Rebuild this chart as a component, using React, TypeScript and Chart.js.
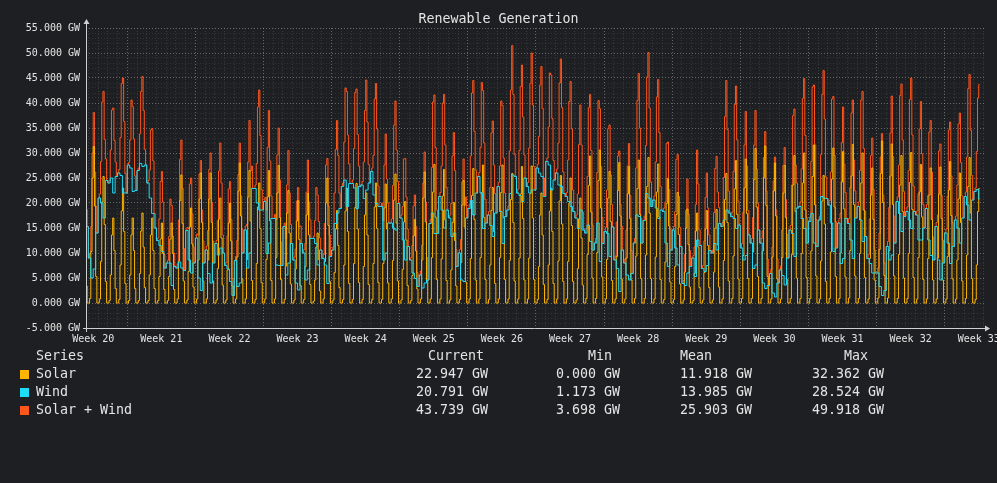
import { useEffect, useRef } from "react"
import { Chart, registerables } from "chart.js"

Chart.register(...registerables)

// hours are counted from Monday 00:00 of week 20
const weekLabels = ["Week 20", "Week 21", "Week 22", "Week 23", "Week 24", "Week 25", "Week 26",
  "Week 27", "Week 28", "Week 29", "Week 30", "Week 31", "Week 32", "Week 33"]
const firstDayHour = 48 // Wednesday of week 20
const endHour = 2270 // Thursday of week 33, ~14:00
const axisMin = 66.2
const axisMax = 2281

// solar, GW, 3-hour steps per day (00, 03, 06, 09, 12, 15, 18, 21 h)
const solar: number[][] = [
  [0, 0.6, 6.6, 16, 20, 12.4, 3.4, 0],
  [0, 0.9, 10.3, 25, 31.3, 19.4, 5.3, 0],
  [0, 0.8, 8.3, 20.2, 25.3, 15.7, 4.3, 0],
  [0, 0.5, 5.6, 13.6, 17, 10.5, 2.9, 0],
  [0, 0.7, 7.6, 18.4, 23, 14.3, 3.9, 0],
  [0, 0.5, 5.6, 13.6, 17, 10.5, 2.9, 0],
  [0, 0.5, 5.9, 14.4, 18, 11.2, 3.1, 0],
  [0, 0.5, 5.6, 13.6, 17, 10.5, 2.9, 0],
  [0, 0.5, 5.3, 12.8, 16, 9.9, 2.7, 0],
  [0, 0.5, 5.3, 12.8, 16, 9.9, 2.7, 0],
  [0, 0.8, 8.4, 20.5, 25.6, 15.9, 4.4, 0],
  [0, 0.6, 6.3, 15.2, 19, 11.8, 3.2, 0],
  [0, 0.8, 8.6, 20.8, 26, 16.1, 4.4, 0],
  [0, 0.8, 8.6, 20.8, 26, 16.1, 4.4, 0],
  [0, 0.6, 6.9, 16.8, 21, 13, 3.6, 0],
  [0, 0.6, 6.6, 16, 20, 12.4, 3.4, 0],
  [0, 0.8, 9.2, 22.4, 28, 17.4, 4.8, 0],
  [0, 0.8, 8.7, 21.2, 26.5, 16.4, 4.5, 0],
  [0, 0.7, 7.9, 19.2, 24, 14.9, 4.1, 0],
  [0, 0.8, 8.7, 21.2, 26.5, 16.4, 4.5, 0],
  [0, 0.8, 9.1, 22, 27.5, 17.1, 4.7, 0],
  [0, 0.7, 7.4, 18, 22.5, 14, 3.8, 0],
  [0, 0.6, 6.8, 16.4, 20.5, 12.7, 3.5, 0],
  [0, 0.7, 7.3, 17.6, 22, 13.6, 3.7, 0],
  [0, 0.4, 4.6, 11.2, 14, 8.7, 2.4, 0],
  [0, 0.8, 8.3, 20, 25, 15.5, 4.3, 0],
  [0, 0.6, 6.1, 14.8, 18.5, 11.5, 3.1, 0],
  [0, 0.7, 7.6, 18.4, 23, 14.3, 3.9, 0],
  [0, 0.7, 7.9, 19.1, 23.9, 14.8, 4.1, 0],
  [0, 0.7, 7.3, 17.6, 22, 13.6, 3.7, 0],
  [0, 0.7, 7.9, 19.2, 24, 14.9, 4.1, 0],
  [0, 0.7, 7.9, 19, 23.8, 14.8, 4, 0],
  [0, 0.8, 8.5, 20.6, 25.8, 16, 4.4, 0],
  [0, 0.6, 6.7, 16.2, 20.3, 12.6, 3.5, 0],
  [0, 0.5, 5.5, 13.4, 16.7, 10.4, 2.8, 0],
  [0, 0.8, 8.6, 21, 26.2, 16.2, 4.5, 0],
  [0, 0.8, 9.1, 22.2, 27.7, 17.2, 4.7, 0],
  [0, 0.8, 8.8, 21.4, 26.7, 16.6, 4.5, 0],
  [0, 0.6, 6.6, 16.1, 20.1, 12.5, 3.4, 0],
  [0, 0.7, 8.1, 19.6, 24.5, 15.2, 4.2, 0],
  [0, 0.8, 8.9, 21.5, 26.9, 16.7, 4.6, 0],
  [0, 0.8, 9.1, 22.1, 27.6, 17.1, 4.7, 0],
  [0, 0.7, 7.6, 18.5, 23.1, 14.3, 3.9, 0],
  [0, 0.8, 9.1, 22.1, 27.6, 17.1, 4.7, 0],
  [0, 0.8, 8.5, 20.7, 25.9, 16.1, 4.4, 0],
  [0, 0.8, 9, 21.8, 27.3, 16.9, 4.6, 0],
  [0, 0.8, 9, 21.9, 27.4, 17, 4.7, 0],
  [0, 0.7, 7.3, 17.6, 22, 13.6, 3.7, 0],
  [0, 0.7, 7.6, 18.4, 23, 14.3, 3.9, 0],
  [0, 0.8, 8.4, 20.4, 25.5, 15.8, 4.3, 0],
  [0, 0.8, 8.3, 20, 25, 15.5, 4.3, 0],
  [0, 0.6, 6.9, 16.8, 21, 13, 3.6, 0],
  [0, 0.9, 9.7, 23.5, 29.4, 18.2, 5, 0],
  [0, 0.9, 10.1, 24.5, 30.6, 19, 5.2, 0],
  [0, 0.8, 8.7, 21, 26.3, 16.3, 4.5, 0],
  [0, 0.8, 9.3, 22.5, 28.1, 17.4, 4.8, 0],
  [0, 0.8, 9, 21.8, 27.3, 16.9, 4.6, 0],
  [0, 0.9, 9.4, 22.9, 28.6, 17.7, 4.9, 0],
  [0, 0.9, 9.6, 23.3, 29.1, 18, 4.9, 0],
  [0, 0.8, 9.2, 22.2, 27.8, 17.2, 4.7, 0],
  [0, 0.7, 8.2, 19.9, 24.9, 15.4, 4.2, 0],
  [0, 0.7, 7.3, 17.7, 22.1, 13.7, 3.8, 0],
  [0, 0.6, 6.2, 15, 18.8, 11.7, 3.2, 0],
  [0, 0.5, 5.9, 14.4, 18, 11.2, 3.1, 0],
  [0, 0.6, 6.1, 14.8, 18.5, 11.5, 3.1, 0],
  [0, 0.6, 6.2, 15, 18.7, 11.6, 3.2, 0],
  [0, 0.8, 8.5, 20.7, 25.9, 16.1, 4.4, 0],
  [0, 0.9, 9.4, 22.8, 28.5, 17.7, 4.8, 0],
  [0, 0.9, 9.5, 23, 28.8, 17.9, 4.9, 0],
  [0, 0.9, 10.2, 24.7, 30.9, 19.2, 5.3, 0],
  [0, 0.9, 10.4, 25.1, 31.4, 19.5, 5.3, 0],
  [0, 0.8, 9.2, 22.4, 28, 17.4, 4.8, 0],
  [0, 0.8, 9.1, 22, 27.5, 17.1, 4.7, 0],
  [0, 0.9, 9.7, 23.6, 29.5, 18.3, 5, 0],
  [0, 0.9, 9.9, 24, 30, 18.6, 5.1, 0],
  [0, 0.9, 10.4, 25.3, 31.6, 19.6, 5.4, 0],
  [0, 0.8, 8.4, 20.4, 25.5, 15.8, 4.3, 0],
  [0, 0.9, 10.2, 24.8, 31, 19.2, 5.3, 0],
  [0, 0.9, 10, 24.2, 30.3, 18.8, 5.2, 0],
  [0, 1, 10.5, 25.4, 31.7, 19.7, 5.4, 0],
  [0, 0.9, 9.9, 24, 30, 18.6, 5.1, 0],
  [0, 0.8, 8.9, 21.6, 27, 16.7, 4.6, 0],
  [0, 1, 10.7, 25.9, 32.4, 20.1, 5.5, 0],
  [0, 1, 10.5, 25.4, 31.8, 19.7, 5.4, 0],
  [0, 0.9, 9.7, 23.6, 29.5, 18.3, 5, 0],
  [0, 0.9, 9.9, 24.1, 30.1, 18.7, 5.1, 0],
  [0, 0.8, 9.1, 22.2, 27.7, 17.2, 4.7, 0],
  [0, 0.8, 8.9, 21.6, 27, 16.7, 4.6, 0],
  [0, 0.8, 9, 21.8, 27.2, 16.9, 4.6, 0],
  [0, 0.8, 9.3, 22.6, 28.3, 17.5, 4.8, 0],
  [0, 0.8, 8.6, 20.8, 26, 16.1, 4.4, 0],
  [0, 0.9, 9.6, 23.3, 29.1, 18, 4.9, 0],
  [0, 0.7, 7.6, 18.3, 22.9],
]

// wind, GW, 6-hour steps per day (00, 06, 12, 18 h)
const wind: number[][] = [
  [14, 15, 16, 15.3], [9, 5, 6.8, 14], [21, 20, 17, 24.5], [24, 25, 22, 25.3],
  [26, 25.5, 22, 22], [27.6, 27, 22.3, 22.5], [26.5, 27.9, 27.3, 27.6], [24, 21, 17.9, 15],
  [12.5, 11.5, 10.3, 7], [8, 8, 3.5, 7.3], [7, 8.2, 7, 6.5], [14.5, 8.6, 6, 8],
  [13, 5, 2.5, 8], [10.6, 5.9, 4, 8], [11.9, 9.6, 11, 10], [7.5, 6.8, 4.3, 1.5],
  [8.5, 3.3, 4, 10], [14.6, 7, 10, 22.9], [22.9, 20, 18.6, 18.6], [20.3, 9.9, 12, 16.9],
  [16.9, 7.6, 7.5, 7.5], [15.3, 5.6, 8, 11.9], [8.6, 4, 2.6, 11.9], [10, 4.6, 6.6, 12.9],
  [12.9, 11.9, 7.6, 10.6], [8.9, 7.6, 3.9, 9.3], [10.6, 15.9, 18, 18.9], [23.3, 24.6, 19.3, 23.9],
  [23.9, 23, 18.9, 23.3], [23.6, 20.9, 22.6, 24], [26.3, 21.6, 19.9, 19.3], [19.3, 8.6, 10, 16],
  [16, 15, 14.6, 19.9], [17, 12.6, 8.6, 11.3], [8.6, 6, 4.9, 3.3], [5.6, 3, 4, 4.6],
  [15.9, 18, 13.9, 13.9], [21.3, 18.6, 15, 18.6], [17, 13.3, 14, 7.3], [10, 4.6, 4.3, 17],
  [18.9, 20.5, 17.6, 22], [25.3, 22, 14.9, 16], [17.6, 15.5, 13.3, 18], [23.3, 18.3, 11.9, 17.3],
  [18.6, 21.9, 25.6, 25.3], [22, 21.5, 20.3, 25], [23.3, 22, 22.6, 22.6], [27, 26, 25.3, 21.3],
  [28.3, 27.6, 22.6, 24.6], [26, 23.6, 23.3, 21.9], [21.3, 20.3, 19.3, 18.3], [17, 14.9, 18.6, 14.6],
  [14, 15.6, 12.3, 10.6], [12, 16, 8.3, 11.9], [14.3, 13.9, 9.3, 15.2], [8.6, 6.9, 2.3, 10.6],
  [8, 5.6, 4.6, 5.9], [12, 17.6, 17.3, 12], [16.5, 21.9, 21, 19.3], [20.6, 19, 16.9, 18.6],
  [18.3, 12, 7.3, 10.6], [14.6, 11, 7.6, 11.3], [3.9, 3.5, 6, 7.3], [9, 5.3, 12.6, 11.5],
  [6.9, 6.3, 7.5, 10.5], [10, 11.9, 10.6, 15.9], [15.3, 16.6, 18.6, 18], [17.3, 16.9, 14.9, 15.6],
  [11, 8.6, 9.5, 13.6], [12, 6.9, 7.6, 14.6], [12, 4, 2.9, 3.5], [5.9, 2, 1.2, 4],
  [6.6, 5.5, 3.6, 9], [14.6, 13.9, 9.3, 19], [19.3, 16.9, 14.9, 12], [16.3, 17.9, 12, 11.3],
  [16.6, 21.3, 21, 20.9], [19.6, 16, 10.3, 11], [16, 7.9, 8.9, 16.9], [15.9, 12.6, 8.9, 17],
  [19.3, 16.6, 12.3, 13.3], [8.9, 7.9, 6, 6], [6, 3.3, 1.5, 2.5], [11.3, 8.6, 9.6, 12],
  [20.3, 17.9, 14.3, 17.3], [18.3, 16.6, 14.9, 18.3], [17.6, 12.6, 12.6, 15], [18.9, 12.6, 9.5, 8.6],
  [15.3, 8.6, 4.6, 8], [14, 12, 7.9, 11.3], [16.6, 15, 12, 17], [21.3, 19.6, 16.6, 20.6],
  [22.3, 22.7, 20.8],
]

const seriesNames = ["Solar", "Wind", "Solar + Wind"]
const currentGW = [22.947, 20.791, 43.739]
const minGW = [0.0, 1.173, 3.698]
const meanGW = [11.918, 13.985, 25.903]
const maxGW = [32.362, 28.524, 49.918]

const SOLAR = "#ffb400"
const WIND = "#1fdcf6"
const SUM = "#ff561c"
const BG = "#1e1f22"
const TEXT = "#e4e4e4"
const MONO = "'DejaVu Sans Mono', monospace"

type Pt = { x: number; y: number }

function buildSeries() {
  const solarPts: Pt[] = []
  const windPts: Pt[] = []
  const sumPts: Pt[] = []
  solar.forEach((row, d) => {
    row.forEach((v, b) => {
      const x = firstDayHour + 24 * d + 3 * b
      solarPts.push({ x, y: v })
      sumPts.push({ x, y: +(v + wind[d][Math.floor(b / 2)]).toFixed(3) })
    })
  })
  wind.forEach((row, d) => {
    row.forEach((v, k) => windPts.push({ x: firstDayHour + 24 * d + 6 * k, y: v }))
  })
  // hold the last reading to the end of the graph
  for (const pts of [solarPts, windPts, sumPts]) {
    pts.push({ x: endHour, y: pts[pts.length - 1].y })
  }
  return { solarPts, windPts, sumPts }
}

const axisArrows = {
  id: "axisArrows",
  afterDatasetsDraw(chart: Chart) {
    const { ctx, chartArea } = chart
    const { left, right, top, bottom } = chartArea
    ctx.save()
    ctx.strokeStyle = "#d0d0d0"
    ctx.fillStyle = "#d0d0d0"
    ctx.lineWidth = 1
    ctx.beginPath()
    ctx.moveTo(left - 3, bottom + 0.5)
    ctx.lineTo(right + 2, bottom + 0.5)
    ctx.moveTo(left + 0.5, bottom + 4)
    ctx.lineTo(left + 0.5, top - 4)
    ctx.stroke()
    ctx.beginPath()
    ctx.moveTo(right + 6, bottom + 0.5)
    ctx.lineTo(right + 1, bottom - 2.5)
    ctx.lineTo(right + 1, bottom + 3.5)
    ctx.closePath()
    ctx.fill()
    ctx.beginPath()
    ctx.moveTo(left + 0.5, top - 9)
    ctx.lineTo(left - 2.5, top - 4)
    ctx.lineTo(left + 3.5, top - 4)
    ctx.closePath()
    ctx.fill()
    ctx.restore()
  },
}

function GenerationChart() {
  const chartRef = useRef<HTMLCanvasElement>(null)
  const chartInstance = useRef<Chart | null>(null)

  useEffect(() => {
    if (!chartRef.current) return
    if (chartInstance.current) chartInstance.current.destroy()

    const { solarPts, windPts, sumPts } = buildSeries()
    const line = { stepped: true, pointRadius: 0, borderWidth: 1, fill: false, tension: 0 }

    chartInstance.current = new Chart(chartRef.current, {
      type: "line",
      data: {
        datasets: [
          { ...line, label: "Wind", data: windPts, borderColor: WIND, order: 1 },
          { ...line, label: "Solar", data: solarPts, borderColor: SOLAR, order: 2 },
          { ...line, label: "Solar + Wind", data: sumPts, borderColor: SUM, order: 3 },
        ],
      },
      options: {
        animation: false,
        responsive: false,
        maintainAspectRatio: false,
        parsing: false,
        layout: { padding: { top: 28, right: 13, bottom: 135, left: 0 } },
        plugins: { legend: { display: false }, tooltip: { enabled: false }, title: { display: false } },
        scales: {
          x: {
            type: "linear",
            min: axisMin,
            max: axisMax,
            afterBuildTicks: (s: any) => {
              const ticks = []
              for (let v = Math.ceil(axisMin / 12) * 12; v <= axisMax; v += 12) ticks.push({ value: v })
              s.ticks = ticks
            },
            afterFit: (s: any) => {
              s.height = 20
              s.paddingLeft = 0
              s.paddingRight = 0
            },
            ticks: {
              autoSkip: false,
              maxRotation: 0,
              minRotation: 0,
              padding: 5,
              color: TEXT,
              font: { family: MONO, size: 10 },
              callback: (value: any) => {
                const v = Number(value)
                if (v % 168 !== 84) return ""
                return weekLabels[Math.floor(v / 168)] ?? ""
              },
            },
            grid: {
              drawTicks: false,
              color: (c: any) => {
                const v = c.tick ? c.tick.value : 0
                if (v % 168 === 0) return "rgba(190,190,190,0.45)"
                if (v % 24 === 0) return "rgba(190,190,190,0.16)"
                return "rgba(0,0,0,0)"
              },
            },
            border: { display: false, dash: [1, 2] },
          },
          y: {
            type: "linear",
            min: -5,
            max: 55,
            afterBuildTicks: (s: any) => {
              const ticks = []
              for (let v = -5; v <= 55; v += 1) ticks.push({ value: v })
              s.ticks = ticks
            },
            afterFit: (s: any) => {
              s.width = 86
              s.paddingTop = 0
              s.paddingBottom = 0
            },
            ticks: {
              autoSkip: false,
              padding: 6,
              color: TEXT,
              font: { family: MONO, size: 10 },
              callback: (value: any) => {
                const v = Number(value)
                return v % 5 === 0 ? `${v.toFixed(3)} GW` : ""
              },
            },
            grid: {
              drawTicks: false,
              color: (c: any) => {
                const v = c.tick ? c.tick.value : 0
                return v % 5 === 0 ? "rgba(190,190,190,0.45)" : "rgba(190,190,190,0.12)"
              },
            },
            border: { display: false, dash: [1, 2] },
          },
        },
      },
      plugins: [axisArrows],
    } as any)

    return () => {
      if (chartInstance.current) {
        chartInstance.current.destroy()
        chartInstance.current = null
      }
    }
  }, [])

  return <canvas ref={chartRef} width={997} height={483} style={{ display: "block" }} />
}

const fmt = (v: number) => `${v.toFixed(3)} GW`
const seriesColors = [SOLAR, WIND, SUM]
const valueColumns = [
  { title: "Current", titleLeft: 428, right: 488, values: currentGW },
  { title: "Min", titleLeft: 588, right: 620, values: minGW },
  { title: "Mean", titleLeft: 680, right: 752, values: meanGW },
  { title: "Max", titleLeft: 844, right: 884, values: maxGW },
]

export default function App() {
  const text: React.CSSProperties = {
    position: "absolute",
    fontFamily: MONO,
    fontSize: 13.3,
    lineHeight: "18px",
    color: TEXT,
    whiteSpace: "pre",
  }
  return (
    <div style={{ position: "absolute", left: 0, top: 0, width: 997, height: 483, background: BG, overflow: "hidden" }}>
      <GenerationChart />
      <div style={{ ...text, top: 10, left: 0, width: 997, textAlign: "center" }}>Renewable Generation</div>
      <div style={{ ...text, top: 347, left: 36 }}>Series</div>
      {valueColumns.map((col) => (
        <div key={col.title} style={{ ...text, top: 347, left: col.titleLeft }}>{col.title}</div>
      ))}
      {seriesNames.map((name, i) => (
        <div key={name}>
          <div style={{ position: "absolute", left: 20, top: 370 + i * 18, width: 9, height: 9, background: seriesColors[i] }} />
          <div style={{ ...text, top: 365 + i * 18, left: 36 }}>{name}</div>
          {valueColumns.map((col) => (
            <div key={col.title} style={{ ...text, top: 365 + i * 18, left: col.right - 140, width: 140, textAlign: "right" }}>
              {fmt(col.values[i])}
            </div>
          ))}
        </div>
      ))}
    </div>
  )
}
